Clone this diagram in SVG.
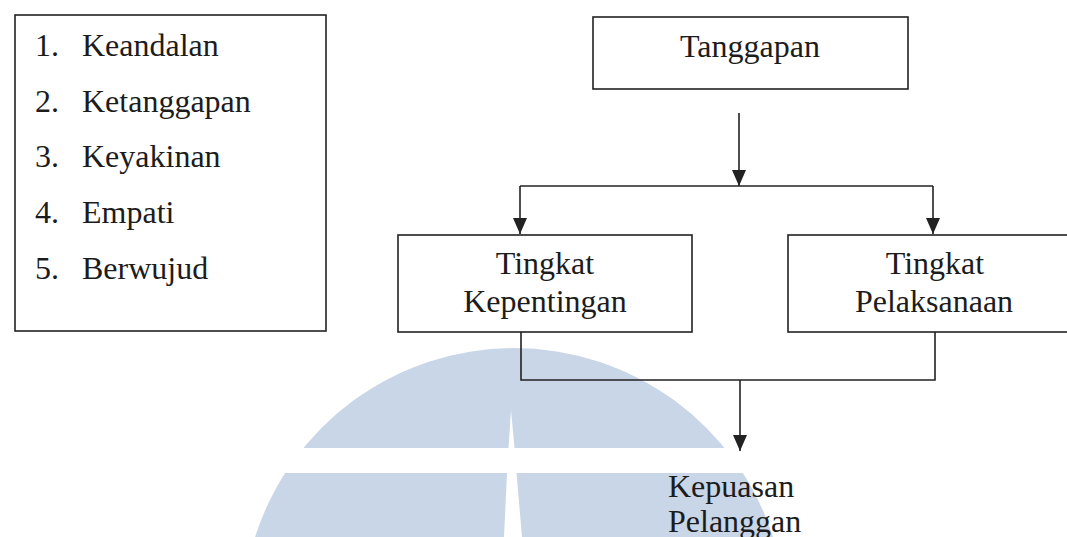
<svg xmlns="http://www.w3.org/2000/svg" width="1067" height="537" viewBox="0 0 1067 537">
  <style>
    .box { fill: none; stroke: #222; stroke-width: 1.6; }
    .line { fill: none; stroke: #222; stroke-width: 1.6; }
    .t { font-family: "Liberation Serif", "Times New Roman", serif; font-size: 32px; fill: #1c1c1c; }
    .c { text-anchor: middle; }
    .wm { fill: #c9d6e8; }
  </style>
  <defs>
    <marker id="arr" viewBox="0 0 16 14" markerWidth="16" markerHeight="14" refX="16" refY="7" orient="auto" markerUnits="userSpaceOnUse">
      <path d="M0,0 L16,7 L0,14 Z" fill="#222"/>
    </marker>
  </defs>
  <rect width="1067" height="537" fill="#ffffff"/>

  <g id="watermark">
    <path class="wm" d="M255,537 A272,272 0 0 1 773,537 Z"/>
    <rect x="200" y="448" width="620" height="25" fill="#ffffff"/>
    <path d="M511,410 L514.5,448 L516.5,473 L522,537 L504,537 L507,473 L508.5,448 Z" fill="#ffffff"/>
  </g>

  <g id="node-dimensi">
    <rect class="box" x="15" y="15" width="311" height="316"/>
    <text class="t" x="35" y="56">1.</text><text class="t" x="82" y="56">Keandalan</text>
    <text class="t" x="35" y="112">2.</text><text class="t" x="82" y="112">Ketanggapan</text>
    <text class="t" x="35" y="167">3.</text><text class="t" x="82" y="167">Keyakinan</text>
    <text class="t" x="35" y="223">4.</text><text class="t" x="82" y="223">Empati</text>
    <text class="t" x="35" y="279">5.</text><text class="t" x="82" y="279">Berwujud</text>
  </g>

  <g id="node-tanggapan">
    <rect class="box" x="593" y="17" width="315" height="72"/>
    <text class="t c" x="750" y="57">Tanggapan</text>
  </g>

  <g id="node-kepentingan">
    <rect class="box" x="398" y="235" width="294" height="97"/>
    <text class="t c" x="545" y="274">Tingkat</text>
    <text class="t c" x="545" y="312">Kepentingan</text>
  </g>

  <g id="node-pelaksanaan">
    <rect class="box" x="788" y="235" width="300" height="97"/>
    <text class="t c" x="935" y="274">Tingkat</text>
    <text class="t c" x="934" y="312">Pelaksanaan</text>
  </g>

  <g id="node-kepuasan">
    <text class="t" x="668" y="497">Kepuasan</text>
    <text class="t" x="668" y="532">Pelanggan</text>
  </g>

  <g id="connectors">
    <path class="line" d="M739,113 L739,186" marker-end="url(#arr)"/>
    <path class="line" d="M520,186 L933,186"/>
    <path class="line" d="M520,186 L520,234" marker-end="url(#arr)"/>
    <path class="line" d="M933,186 L933,234" marker-end="url(#arr)"/>
    <path class="line" d="M521,332 L521,380 L935,380 L935,332"/>
    <path class="line" d="M740,380 L740,451" marker-end="url(#arr)"/>
  </g>
</svg>
